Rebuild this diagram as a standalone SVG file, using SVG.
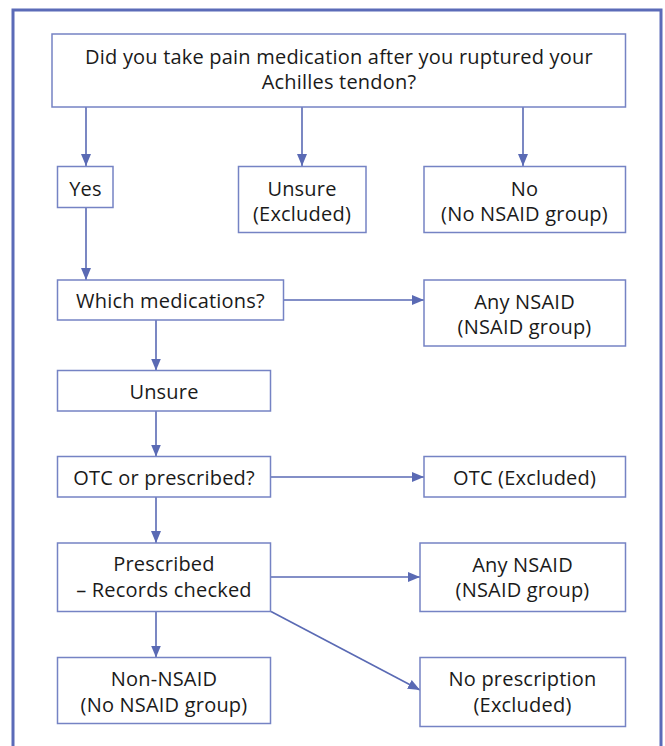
<svg xmlns="http://www.w3.org/2000/svg" width="665" height="746" viewBox="0 0 665 746">
<style>
  .box { fill: #ffffff; stroke: #7583c4; stroke-width: 1.5; }
  .t { font-family: "Open Sans", Lato, "Liberation Sans", sans-serif; font-size: 20px; letter-spacing: 0.2px; fill: #1a1a1a; text-anchor: middle; }
  .c { stroke: #5a6ab4; stroke-width: 1.6; fill: none; marker-end: url(#ah); }
</style>
<defs>
  <marker id="ah" viewBox="0 0 12 10" refX="12" refY="5" markerWidth="12" markerHeight="10" markerUnits="userSpaceOnUse" orient="auto">
    <path d="M0,0 L12,5 L0,10 Z" fill="#5a6ab4"/>
  </marker>
</defs>
<rect x="0" y="0" width="665" height="746" fill="#ffffff"/>
<rect id="frame" x="13" y="10" width="648" height="800" fill="none" stroke="#5b6bb8" stroke-width="3"/>

<g id="connectors">
  <line class="c" x1="86" y1="107" x2="86" y2="166"/>
  <line class="c" x1="302" y1="107" x2="302" y2="166"/>
  <line class="c" x1="523" y1="107" x2="523" y2="166"/>
  <line class="c" x1="86" y1="208" x2="86" y2="280"/>
  <line class="c" x1="283" y1="300" x2="424" y2="300"/>
  <line class="c" x1="156" y1="320" x2="156" y2="370.5"/>
  <line class="c" x1="156" y1="411" x2="156" y2="456.5"/>
  <line class="c" x1="271" y1="477" x2="424" y2="477"/>
  <line class="c" x1="156" y1="497" x2="156" y2="543"/>
  <line class="c" x1="271" y1="577" x2="420" y2="577"/>
  <line class="c" x1="156" y1="611.5" x2="156" y2="657.5"/>
  <line class="c" x1="271" y1="611.5" x2="420" y2="690"/>
</g>

<g id="q1">
  <rect class="box" x="52" y="34" width="573.5" height="73"/>
  <text class="t" x="339" y="64">Did you take pain medication after you ruptured your</text>
  <text class="t" x="339" y="89">Achilles tendon?</text>
</g>
<g id="yes">
  <rect class="box" x="57.5" y="166.5" width="55.5" height="41"/>
  <text class="t" x="85.5" y="195.5">Yes</text>
</g>
<g id="unsure1">
  <rect class="box" x="238.5" y="166.5" width="127.5" height="66"/>
  <text class="t" x="302" y="196">Unsure</text>
  <text class="t" x="302" y="221">(Excluded)</text>
</g>
<g id="no">
  <rect class="box" x="424" y="166.5" width="201.5" height="66"/>
  <text class="t" x="524.5" y="196">No</text>
  <text class="t" x="524.5" y="221">(No NSAID group)</text>
</g>
<g id="which">
  <rect class="box" x="57.5" y="280" width="226" height="40"/>
  <text class="t" x="170.5" y="307.5">Which medications?</text>
</g>
<g id="anynsaid1">
  <rect class="box" x="424" y="280" width="201.5" height="66"/>
  <text class="t" x="524.5" y="308.5">Any NSAID</text>
  <text class="t" x="524.5" y="333.5">(NSAID group)</text>
</g>
<g id="unsure2">
  <rect class="box" x="57.5" y="370.5" width="213" height="40.5"/>
  <text class="t" x="164" y="399">Unsure</text>
</g>
<g id="otcpres">
  <rect class="box" x="57.5" y="456.5" width="213" height="40.5"/>
  <text class="t" x="164" y="484.5">OTC or prescribed?</text>
</g>
<g id="otcexcl">
  <rect class="box" x="424" y="456.5" width="201.5" height="40.5"/>
  <text class="t" x="524.5" y="484.5">OTC (Excluded)</text>
</g>
<g id="prescribed">
  <rect class="box" x="57.5" y="543" width="213" height="68.5"/>
  <text class="t" x="164" y="571">Prescribed</text>
  <text class="t" x="164" y="596.5">– Records checked</text>
</g>
<g id="anynsaid2">
  <rect class="box" x="420" y="543" width="205.5" height="68.5"/>
  <text class="t" x="522.5" y="571.5">Any NSAID</text>
  <text class="t" x="522.5" y="596.5">(NSAID group)</text>
</g>
<g id="nonnsaid">
  <rect class="box" x="57.5" y="657.5" width="213" height="66"/>
  <text class="t" x="164" y="686">Non-NSAID</text>
  <text class="t" x="164" y="711.5">(No NSAID group)</text>
</g>
<g id="noprescription">
  <rect class="box" x="420" y="657.5" width="205.5" height="69"/>
  <text class="t" x="522.5" y="686">No prescription</text>
  <text class="t" x="522.5" y="711.5">(Excluded)</text>
</g>
</svg>
